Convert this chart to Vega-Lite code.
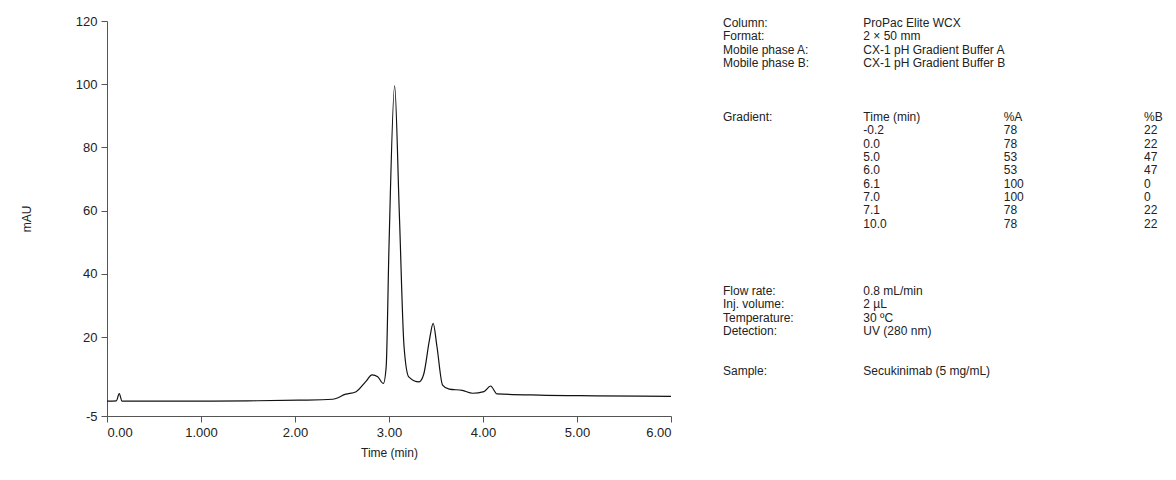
{
  "$schema": "https://vega.github.io/schema/vega-lite/v6.json",
  "background": "white",
  "padding": {"left": 20, "top": 15, "right": 5, "bottom": 5},
  "spacing": 49,
  "config": {
    "view": {"stroke": null},
    "font": "Liberation Sans",
    "text": {"font": "Liberation Sans"},
    "axis": {"labelFont": "Liberation Sans", "titleFont": "Liberation Sans", "labelFontSize": 13, "titleFontSize": 12, "titleFontWeight": "normal", "labelColor": "#222", "titleColor": "#222", "domainColor": "#555", "tickColor": "#555", "tickSize": 6, "labelPadding": 4, "grid": false}
  },
  "hconcat": [
    {
      "width": 564,
      "height": 395,
      "data": {"values": [
        {"t": 0.0, "v": -0.3}, {"t": 0.02, "v": -0.3}, {"t": 0.1, "v": -0.2}, {"t": 0.13, "v": 2.1}, {"t": 0.16, "v": -0.3},
        {"t": 0.4, "v": -0.3}, {"t": 0.6, "v": -0.3}, {"t": 1.0, "v": -0.3}, {"t": 1.5, "v": -0.2}, {"t": 2.04, "v": 0.0},
        {"t": 2.4, "v": 0.3}, {"t": 2.54, "v": 1.9}, {"t": 2.65, "v": 2.7}, {"t": 2.75, "v": 5.8}, {"t": 2.82, "v": 8.0},
        {"t": 2.88, "v": 7.4}, {"t": 2.94, "v": 5.3}, {"t": 2.97, "v": 10.6}, {"t": 3.0, "v": 48.7}, {"t": 3.06, "v": 99.5},
        {"t": 3.11, "v": 59}, {"t": 3.16, "v": 17}, {"t": 3.21, "v": 7.4}, {"t": 3.32, "v": 5.8}, {"t": 3.37, "v": 8.3},
        {"t": 3.43, "v": 19}, {"t": 3.47, "v": 24.3}, {"t": 3.51, "v": 17}, {"t": 3.57, "v": 4.8}, {"t": 3.64, "v": 3.5},
        {"t": 3.78, "v": 3.1}, {"t": 3.89, "v": 2.2}, {"t": 4.01, "v": 2.7}, {"t": 4.08, "v": 4.5}, {"t": 4.15, "v": 2.0},
        {"t": 4.6, "v": 1.6}, {"t": 5.2, "v": 1.4}, {"t": 6.0, "v": 1.2}
      ]},
      "mark": {"type": "line", "color": "#111", "strokeWidth": 1.2, "interpolate": "monotone"},
      "encoding": {
        "x": {"field": "t", "type": "quantitative", "title": "Time (min)", "scale": {"domain": [0, 6], "nice": false},
          "axis": {"values": [0, 1, 2, 3, 4, 5, 6], "labelExpr": "datum.value == 1 ? '1.000' : format(datum.value, '.2f')", "titlePadding": 8}},
        "y": {"field": "v", "type": "quantitative", "title": "mAU", "scale": {"domain": [-5, 120], "nice": false},
          "axis": {"values": [-5, 20, 40, 60, 80, 100, 120], "labelExpr": "datum.value == -5 ? '-5' : datum.label", "titlePadding": 42}}
      }
    },
    {
      "width": 440,
      "height": 395,
      "data": {"values": [
        {"col": 0, "row": 0, "text": "Column:"}, {"col": 1, "row": 0, "text": "ProPac Elite WCX"},
        {"col": 0, "row": 1, "text": "Format:"}, {"col": 1, "row": 1, "text": "2 × 50 mm"},
        {"col": 0, "row": 2, "text": "Mobile phase A:"}, {"col": 1, "row": 2, "text": "CX-1 pH Gradient Buffer A"},
        {"col": 0, "row": 3, "text": "Mobile phase B:"}, {"col": 1, "row": 3, "text": "CX-1 pH Gradient Buffer B"},
        {"col": 0, "row": 7, "text": "Gradient:"}, {"col": 1, "row": 7, "text": "Time (min)"}, {"col": 2, "row": 7, "text": "%A"}, {"col": 3, "row": 7, "text": "%B"},
        {"col": 1, "row": 8, "text": "-0.2"}, {"col": 2, "row": 8, "text": "78"}, {"col": 3, "row": 8, "text": "22"},
        {"col": 1, "row": 9, "text": "0.0"}, {"col": 2, "row": 9, "text": "78"}, {"col": 3, "row": 9, "text": "22"},
        {"col": 1, "row": 10, "text": "5.0"}, {"col": 2, "row": 10, "text": "53"}, {"col": 3, "row": 10, "text": "47"},
        {"col": 1, "row": 11, "text": "6.0"}, {"col": 2, "row": 11, "text": "53"}, {"col": 3, "row": 11, "text": "47"},
        {"col": 1, "row": 12, "text": "6.1"}, {"col": 2, "row": 12, "text": "100"}, {"col": 3, "row": 12, "text": "0"},
        {"col": 1, "row": 13, "text": "7.0"}, {"col": 2, "row": 13, "text": "100"}, {"col": 3, "row": 13, "text": "0"},
        {"col": 1, "row": 14, "text": "7.1"}, {"col": 2, "row": 14, "text": "78"}, {"col": 3, "row": 14, "text": "22"},
        {"col": 1, "row": 15, "text": "10.0"}, {"col": 2, "row": 15, "text": "78"}, {"col": 3, "row": 15, "text": "22"},
        {"col": 0, "row": 20, "text": "Flow rate:"}, {"col": 1, "row": 20, "text": "0.8 mL/min"},
        {"col": 0, "row": 21, "text": "Inj. volume:"}, {"col": 1, "row": 21, "text": "2 µL"},
        {"col": 0, "row": 22, "text": "Temperature:"}, {"col": 1, "row": 22, "text": "30 ºC"},
        {"col": 0, "row": 23, "text": "Detection:"}, {"col": 1, "row": 23, "text": "UV (280 nm)"},
        {"col": 0, "row": 26, "text": "Sample:"}, {"col": 1, "row": 26, "text": "Secukinimab (5 mg/mL)"}
      ]},
      "mark": {"type": "text", "align": "left", "baseline": "middle", "fontSize": 12, "color": "#222", "font": "Liberation Sans"},
      "encoding": {
        "x": {"field": "col", "type": "quantitative", "axis": null, "scale": {"domain": [0, 3.135], "nice": false}},
        "y": {"field": "row", "type": "quantitative", "axis": null, "scale": {"domain": [-0.15, 29.35], "nice": false, "reverse": true}},
        "text": {"field": "text"}
      }
    }
  ]
}
